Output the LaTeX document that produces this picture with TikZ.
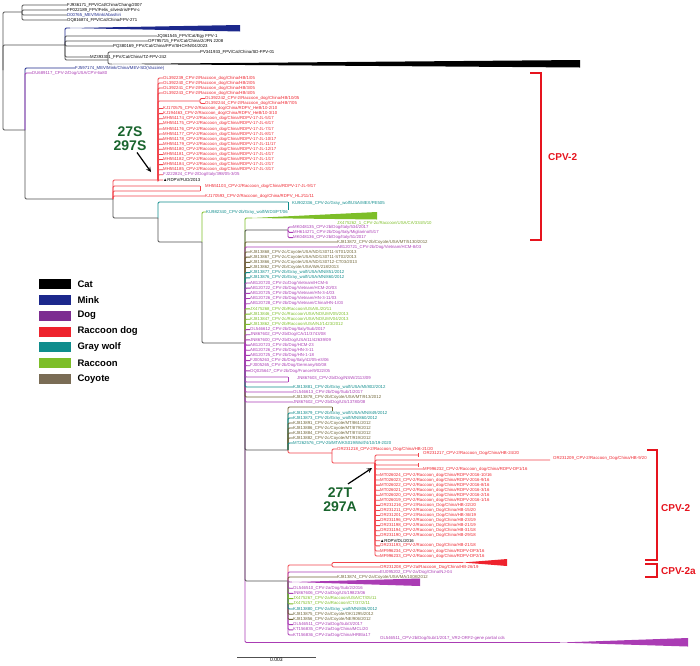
\documentclass[tikz,border=0pt]{standalone}
\usepackage{fontspec}
\setmainfont{Liberation Sans}
\usepackage{xcolor}
\usetikzlibrary{positioning}

\definecolor{treec}{RGB}{80,80,80}
\definecolor{minkc}{RGB}{28,40,140}
\definecolor{dogc}{RGB}{170,60,180}
\definecolor{dogleg}{RGB}{125,45,145}
\definecolor{rdogc}{RGB}{238,35,45}
\definecolor{wolfc}{RGB}{15,140,140}
\definecolor{racc}{RGB}{125,190,40}
\definecolor{coyc}{RGB}{110,100,55}
\definecolor{coyleg}{RGB}{122,108,85}
\definecolor{mutg}{RGB}{25,100,45}
\definecolor{brkc}{RGB}{230,20,30}

\tikzset{
  br/.style={draw=treec, line width=0.9pt, rounded corners=1.2pt},
  rbr/.style={draw=rdogc!85, line width=0.8pt, rounded corners=1.2pt},
  lbl/.style={anchor=west, inner sep=0pt, font=\fontsize{4.3}{5}\selectfont},
  legbox/.style={minimum width=33pt, minimum height=11pt, inner sep=0pt, draw=white, line width=0.6pt},
  legtxt/.style={anchor=west, inner sep=0pt, font=\fontsize{9.5}{10}\selectfont\bfseries},
  mut/.style={inner sep=0pt, font=\fontsize{14}{14}\selectfont\bfseries, text=mutg},
  clade/.style={anchor=west, inner sep=0pt, font=\fontsize{10}{10}\selectfont\bfseries, text=brkc},
  brk/.style={draw=brkc, line width=1.2pt},
}

\begin{document}
\catcode`\_=12
\begin{tikzpicture}[x=1pt,y=-1pt]
\useasboundingbox (0,0) rectangle (700,665);

% ---- FPV / MEV outgroups
\coordinate (root) at (3,70);
\coordinate (c22) at (22,12);
\coordinate (c65) at (65,45);
\coordinate (c25) at (25,130);
\draw[br] (root) |- (c22);
\draw[br] (root) |- (c65);
\draw[br] (root) |- (c25);

\node[lbl] (fj936) at (67,5) {FJ936171_FPV/Cat/China/Chang/2007};
\node[lbl] (fp022) at (67,10) {FP022189_FPV/Felis_silvestris/FPV-c};
\node[lbl, text=minkc] (d00765) at (67,15) {D00765_MEV/Mink/Abashiri};
\node[lbl] (oq816) at (67,20) {OQ816874_FPV/Cat/China/FPV-271};
\foreach \n in {fj936,fp022,d00765,oq816}
  \draw[br] (c22) |- (\n.west);

\coordinate (wmk) at (70,28);
\draw[br, draw=minkc] (c65) |- (wmk);
\fill[minkc] (wmk) -- (240,25) -- (240,31.5) -- cycle;
\node[lbl] (jq361) at (157,36) {JQ361545_FPV/Cat/Egy FPV-1};
\node[lbl] (op795) at (148,41) {OP795715_FPV/Cat/China/2/JFN 2208};
\node[lbl] (pq380) at (113,46) {PQ380169_FPV/Cat/China/FPV/SHCHN/04/2023};
\node[lbl] (mz393) at (90,57) {MZ393301_FPV/Cat/China/TZ-FPV-242};
\foreach \n in {jq361,op795,pq380,mz393}
  \draw[br] (c65) |- (\n.west);
\coordinate (c108) at (108,60);
\node[lbl] (pv341) at (200,52) {PV341933_FPV/Cat/China/SD-FPV-01};
\coordinate (wct) at (112,64);
\draw[br] (c65) |- (c108);
\draw[br] (c108) |- (pv341.west);
\draw[br] (c108) |- (wct);
\fill[black] (wct) -- (580,60) -- (580,67.5) -- cycle;

\node[lbl, text=minkc] (fj597) at (75,68) {FJ597174_MEV/Mink/China/MEV-SD(Vaccine)};
\node[lbl, text=dogc] (du689) at (32,73) {DU689117_CPV-2/Dog/USA/CPV-6a80};
\coordinate (c113) at (113,199);
\draw[br, draw=minkc] (c25) |- (fj597.west);
\draw[br, draw=dogc] (c25) |- (du689.west);
\draw[br] (c25) |- (c113);

% ---- upper CPV-2 raccoon dog clade
\coordinate (c158r) at (158,180);
\draw[rbr] (c113) |- (c158r);
\foreach \t [count=\i] in {OL392239_CPV-2/Raccoon_dog/China/HB/1/05,
  OL392240_CPV-2/Raccoon_dog/China/HB/2/05, OL392241_CPV-2/Raccoon_dog/China/HB/3/05,
  OL392243_CPV-2/Raccoon_dog/China/HB/4/05}{
  \node[lbl, text=rdogc] (ra\i) at (163,{78+5*(\i-1)}) {\t};
  \draw[rbr] (c158r) |- (ra\i.west);
}
\coordinate (c200r) at (200,101);
\draw[rbr] (c158r) |- (c200r);
\node[lbl, text=rdogc] (ol242) at (205,98.5) {OL392242_CPV-2/Raccoon_dog/China/HB/10/05};
\node[lbl, text=rdogc] (ol244) at (205,103.5) {OL392244_CPV-2/Raccoon_dog/China/HB/7/05};
\draw[rbr] (c200r) |- (ol242.west);
\draw[rbr] (c200r) |- (ol244.west);
\foreach \t/\c [count=\i] in {{KJ170575_CPV-2/Raccoon_dog/China/RDPV_HeB/10-2/10}/rdogc,
  {KJ194463_CPV-2/Raccoon_dog/China/RDPV_HeB/10-3/10}/rdogc,
  {MH551174_CPV-2/Raccoon_dog/China/RDPV-17-JL-5/17}/rdogc,
  {MH551175_CPV-2/Raccoon_dog/China/RDPV-17-JL-6/17}/rdogc,
  {MH551176_CPV-2/Raccoon_dog/China/RDPV-17-JL-7/17}/rdogc,
  {MH551177_CPV-2/Raccoon_dog/China/RDPV-17-JL-8/17}/rdogc,
  {MH551178_CPV-2/Raccoon_dog/China/RDPV-17-JL-10/17}/rdogc,
  {MH551179_CPV-2/Raccoon_dog/China/RDPV-17-JL-11/17}/rdogc,
  {MH551180_CPV-2/Raccoon_dog/China/RDPV-17-JL-12/17}/rdogc,
  {MH551181_CPV-2/Raccoon_dog/China/RDPV-17-JL-4/17}/rdogc,
  {MH551182_CPV-2/Raccoon_dog/China/RDPV-17-JL-1/17}/rdogc,
  {MH551184_CPV-2/Raccoon_dog/China/RDPV-17-JL-2/17}/rdogc,
  {MH551185_CPV-2/Raccoon_dog/China/RDPV-17-JL-3/17}/rdogc,
  {FJ222824_CPV-2/Dog/Italy/398/05-3/05}/dogc,
  {▲RDPV/FUD/2013}/black}{
  \node[lbl, text=\c] (rb\i) at (163,{108.5+5.1*(\i-1)}) {\t};
  \draw[rbr] (c158r) |- (rb\i.west);
}
\coordinate (m103a) at (200,186);
\coordinate (m103b) at (200,191);
\draw[rbr] (c113) |- (m103a);
\draw[rbr] (c113) |- (m103b);
\draw[rbr] (m103a) -- (m103b);
\node[lbl, text=rdogc] (mh103) at (205,186) {MH551103_CPV-2/Raccoon_dog/China/RDPV-17-JL-9/17};
\node[lbl, text=rdogc] (kj593) at (205,196) {KJ170593_CPV-2/Raccoon_dog/China/RDPV_HLJ/11/11};
\draw[rbr] (c113) |- (kj593.west);

% ---- gray wolf branches
\coordinate (c158g) at (158,218);
\draw[br] (c113) |- (c158g);
\coordinate (t288) at (288,202);
\draw[br, draw=wolfc] (c158g) |- (t288);
\draw[br, draw=wolfc] (t288) -- ++(0,8);
\node[lbl, text=wolfc] (ku902) at (292,203) {KU902336_CPV-2c/Gray_wolf/USA/MEX/PE505};
\coordinate (c202) at (202,242);
\draw[br] (c158g) |- (c202);
\node[lbl, text=wolfc] (ku982) at (206,212) {KU982340_CPV-2b/Gray_wolf/WD3/PT/06};
\draw[br, draw=racc] (c202) |- (ku982.west);
\coordinate (c245) at (245,343);
\draw[br] (c202) |- (c245);

% ---- CPV-2a clade and bottom (drawn bottom first)
\coordinate (wbt) at (560,642.5);
\draw[br, draw=dogc] (c245) |- (wbt);
\fill[dogc] (wbt) -- (688,638) -- (688,646.5) -- cycle;
\node[lbl, text=dogc] (ol511) at (380,638) {OL546511_CPV-2b/Dog/Sub/1/2017_VR2-ORF2-gene partial cds};

\coordinate (c288a) at (288,581);
\draw[br] (c245) |- (c288a);
\coordinate (c332a) at (332,565);
\draw[rbr] (c288a) |- (c332a);
\coordinate (wrd) at (463,562.5);
\draw[rbr] (c332a) |- (wrd);
\fill[rdogc] (wrd) -- (507,559) -- (507,566) -- cycle;
\node[lbl, text=rdogc] (or208) at (380,567) {OR231208_CPV-2a/Raccoon_Dog/China/HB-26/19};
\draw[rbr] (c332a) |- (or208.west);
\node[lbl, text=dogc] (eu202) at (380,572) {EU095202_CPV-2a/Dog/China/NJ-04};
\draw[br, draw=dogc] (c288a) |- (eu202.west);
\node[lbl, text=coyc] (kj874) at (337,577) {KJ813874_CPV-2a/Coyote/USA/MA/1008/2012};
\draw[br, draw=coyc] (c288a) |- (kj874.west);
\coordinate (wdg) at (292,582);
\draw[br, draw=dogc] (c288a) |- (wdg);
\fill[dogc] (wdg) -- (420,578.5) -- (420,586) -- cycle;
\foreach \t/\c [count=\i] in {{KT156836_CPV-2a/Dog/China/HRB/a17}/dogc,
  {KT156835_CPV-2a/Dog/China/MCL/20}/dogc,
  {OL546511_CPV-2a/Dog/Sub/3/2017}/dogc,
  {KJ813856_CPV-2a/Coyote/NE/906/2012}/coyc,
  {KJ813875_CPV-2a/Coyote/OK/1295/2012}/coyc,
  {KJ813880_CPV-2a/Gray_wolf/MN/806/2012}/wolfc,
  {JX475257_CPV-2a/Raccoon/CT/37/2/11}/racc,
  {JX475267_CPV-2a/Raccoon/USA/CT/05/11}/racc,
  {JN867606_CPV-2a/Dog/US/19823/06}/dogc,
  {OL546510_CPV-2a/Dog/Sub/2/2016}/dogc}{
  \node[lbl, text=\c] (ca\i) at (293,{635-5.2*(\i-1)}) {\t};
  \draw[br, draw=\c] (c288a) |- (ca\i.west);
}

% ---- lower CPV-2 raccoon dog clade
\coordinate (c288c) at (288,450);
\draw[br] (c245) |- (c288c);
\coordinate (ol407) at (332,407);
\draw[br, draw=coyc] (c288c) |- (ol407);
\draw[br, draw=coyc] (ol407) -- ++(0,4);
\foreach \t/\c [count=\i] in {{KJ813879_CPV-2b/Gray_wolf/USA/MN/849/2012}/wolfc,
  {KJ813873_CPV-2b/Gray_wolf/MN/860/2012}/wolfc,
  {KJ813891_CPV-2c/Coyote/MT/861/2012}/coyc,
  {KJ813886_CPV-2c/Coyote/MT/879/2012}/coyc,
  {KJ813884_CPV-2c/Coyote/MT/874/2012}/coyc,
  {KJ813882_CPV-2c/Coyote/MT/919/2012}/coyc,
  {MT262576_CPV-2b/MTA/KS019/Wolf/4/10/19-2020}/wolfc}{
  \node[lbl, text=\c] (bx\i) at (293,{413+5*(\i-1)}) {\t};
  \draw[br, draw=\c] (c288c) |- (bx\i.west);
}
\coordinate (c332) at (332,453);
\draw[rbr] (c288c) |- (c332);
\node[lbl, text=rdogc] (or218) at (337,449) {OR231218_CPV-2/Raccoon_Dog/China/HB-21/20};
\draw[rbr] (c332) |- (or218.west);
\coordinate (c375) at (375,463);
\draw[rbr] (c332) |- (c375);
\coordinate (e455) at (418,455);
\coordinate (e460) at (550,460);
\coordinate (e465) at (418,465);
\draw[rbr] (c375) |- (e455);
\draw[rbr] (c375) |- (e460);
\draw[rbr] (c375) |- (e465);
\draw[rbr] (e455) ++(0,-2) -- ++(0,4);
\draw[rbr] (e465) ++(0,-2) -- ++(0,4);
\node[lbl, text=rdogc] (or217) at (423,453) {OR231217_CPV-2/Raccoon_Dog/China/HB-24/20};
\node[lbl, text=rdogc] (or209) at (553,458) {OR231209_CPV-2/Raccoon_Dog/China/HB-9/20};
\node[lbl, text=rdogc] (mf232) at (423,469) {MF996232_CPV-2/Raccoon_dog/China/RDPV-DP1/16};
\draw[rbr] (c375) |- (mf232.west);
\foreach \t/\c [count=\i] in {{MT026024_CPV-2/Raccoon_dog/China/RDPV-2016-10/16}/rdogc,
  {MT026023_CPV-2/Raccoon_dog/China/RDPV-2016-9/16}/rdogc,
  {MT026022_CPV-2/Raccoon_dog/China/RDPV-2016-8/16}/rdogc,
  {MT026021_CPV-2/Raccoon_dog/China/RDPV-2016-3/16}/rdogc,
  {MT026020_CPV-2/Raccoon_dog/China/RDPV-2016-2/16}/rdogc,
  {MT026019_CPV-2/Raccoon_dog/China/RDPV-2016-1/16}/rdogc,
  {OR231216_CPV-2/Raccoon_Dog/China/HB-22/20}/rdogc,
  {OR231211_CPV-2/Raccoon_Dog/China/HB-15/20}/rdogc,
  {OR231201_CPV-2/Raccoon_Dog/China/HB-36/19}/rdogc,
  {OR231196_CPV-2/Raccoon_Dog/China/HB-23/19}/rdogc,
  {OR231198_CPV-2/Raccoon_Dog/China/HB-21/19}/rdogc,
  {OR231194_CPV-2/Raccoon_Dog/China/HB-31/18}/rdogc,
  {OR231190_CPV-2/Raccoon_Dog/China/HB-29/18}/rdogc,
  {▲RDPV/DL/2016}/black,
  {OR231193_CPV-2/Raccoon_Dog/China/HB-21/18}/rdogc,
  {MF996234_CPV-2/Raccoon_dog/China/RDPV-DP3/16}/rdogc,
  {MF996233_CPV-2/Raccoon_dog/China/RDPV-DP2/16}/rdogc}{
  \node[lbl, text=\c] (rl\i) at (380,{475+5.06*(\i-1)}) {\t};
  \draw[rbr] (c375) |- (rl\i.west);
}

% ---- single leaves under the big polytomy
\node[lbl, text=dogc] (jn602) at (293,402) {JN867602_CPV-2b/Dog/US/13780/08};
\node[lbl, text=coyc] (kj878) at (293,397) {KJ813878_CPV-2b/Coyote/USA/MT/913/2012};
\node[lbl, text=dogc] (ol613) at (293,392) {OL546613_CPV-2b/Dog/Sub/1/2017};
\node[lbl, text=wolfc] (kj881) at (293,387) {KJ813881_CPV-2b/Gray_wolf/USA/MI/802/2012};
\draw[br, draw=dogc] (c245) |- (jn602.west);
\draw[br, draw=coyc] (c245) |- (kj878.west);
\draw[br, draw=dogc] (c245) |- (ol613.west);
\draw[br, draw=wolfc] (c245) |- (kj881.west);
\coordinate (q2) at (288,382);
\coordinate (q1) at (288,377);
\draw[br, draw=dogc] (c245) |- (q2);
\draw[br, draw=dogc] (c245) |- (q1);
\draw[br, draw=dogc] (q1) -- (q2);
\node[lbl, text=dogc] (jn603) at (297,378) {JN867603_CPV-2b/Dog/NSW/2113/09};

% ---- upper side of the big polytomy (drawn top first)
\coordinate (wrc) at (252,218);
\draw[br, draw=racc] (c245) |- (wrc);
\fill[racc] (wrc) -- (377,212) -- (377,219.5) -- cycle;
\node[lbl, text=racc] (jx262) at (337,223) {JX475262_1_CPV-2c/Raccoon/USA/CA/334/5/10};
\coordinate (c288p) at (288,230);
\draw[br] (c245) |- (c288p);
\foreach \t [count=\i] in {MK048135_CPV-2b/Dog/Italy/534/2017,
  MH614271_CPV-2b/Dog/Italy/Migliarino/5/17, MK048136_CPV-2b/Dog/Italy/51/2017}{
  \node[lbl, text=dogc] (pi\i) at (293,{227+5.3*(\i-1)}) {\t};
  \draw[br, draw=dogc] (c288p) |- (pi\i.west);
}
\node[lbl, text=coyc] (kj872) at (337,242) {KJ813872_CPV-2b/Coyote/USA/MT/5130/2012};
\draw[br, draw=coyc] (c245) |- (kj872.west);
\node[lbl, text=dogc] (ab721) at (337,247) {AB120721_CPV-2b/Dog/Vietnam/HCM-8/03};
\draw[br, draw=dogc] (c245) |- (ab721.west);

\foreach \t/\c [count=\i] in {{KJ813868_CPV-2c/Coyote/USA/ND/130711-ST01/2013}/coyc,
  {KJ813867_CPV-2c/Coyote/USA/ND/130711-ST02/2013}/coyc,
  {KJ813866_CPV-2c/Coyote/USA/ND/130712-CT03/2013}/coyc,
  {KJ813862_CPV-2b/Coyote/USA/WA/218/2013}/coyc,
  {KJ813877_CPV-2b/Gray_wolf/USA/MN/851/2012}/wolfc,
  {KJ813876_CPV-2b/Gray_wolf/USA/MN/860/2012}/wolfc,
  {AB120720_CPV-2c/Dog/Vietnam/HCM-6}/dogc,
  {AB120722_CPV-2b/Dog/Vietnam/HCM-20/03}/dogc,
  {AB120725_CPV-2b/Dog/Vietnam/HN-3-4/03}/dogc,
  {AB120726_CPV-2b/Dog/Vietnam/HN-3-11/03}/dogc,
  {AB120728_CPV-2b/Dog/Vietnam/China/HN-1/03}/dogc,
  {JX475268_CPV-2b/Raccoon/USA/IL/20/11}/racc,
  {KJ813846_CPV-2c/Raccoon/USA/ND/UMV05/2013}/racc,
  {KJ813847_CPV-2c/Raccoon/USA/ND/UMV04/2013}/racc,
  {KJ813862_CPV-2b/Raccoon/USA/NJ/1423/2012}/racc,
  {OL546612_CPV-2b/Dog/Italy/Sub/2017}/dogc,
  {JN867602_CPV-2b/Dog/CA/11/3743/08}/dogc,
  {JN867600_CPV-2b/Dog/USA/11/42639/09}/dogc,
  {AB120723_CPV-2b/Dog/HCM-23}/dogc,
  {AB120726_CPV-2b/Dog/HN-3-11}/dogc,
  {AB120725_CPV-2b/Dog/HN-1-18}/dogc,
  {FJ005263_CPV-2b/Dog/Italy/42/05-e3/06}/dogc,
  {FJ005265_CPV-2b/Dog/Germany/60/08}/dogc,
  {OQ025647_CPV-2b/Dog/France/9/022/05}/dogc}{
  \node[lbl, text=\c] (bl\i) at (250,{252+5.17*(\i-1)}) {\t};
  \draw[br, draw=\c] (c245) |- (bl\i.west);
}

% ---- mutation labels
\node[mut] (m27s) at (130,132) {27S};
\node[mut, below=3pt of m27s] (m297s) {297S};
\coordinate (tgts) at (151,172);
\draw[-stealth, line width=1.2pt] ([xshift=7pt,yshift=-2pt]m297s.south) -- (tgts);
\node[mut] (m27t) at (340,493) {27T};
\node[mut, below=3pt of m27t] (m297a) {297A};
\coordinate (tgtt) at (372,468);
\draw[-stealth, line width=1.2pt] ([xshift=8pt,yshift=4pt]m27t.north) -- (tgtt);

% ---- clade brackets
\coordinate (b1t) at (530,73);
\coordinate (b1b) at (530,240);
\draw[brk] (b1t) -- ++(11,0) |- (b1b);
\node[clade] (cpv2a) at (548,157) {CPV-2};
\coordinate (b2t) at (647,450);
\coordinate (b2b) at (645,560);
\draw[brk] (b2t) -- ++(10,0) |- (b2b);
\node[clade] (cpv2b) at (661,508) {CPV-2};
\coordinate (b3t) at (645,564);
\coordinate (b3b) at (645,577);
\draw[brk] (b3t) -- ++(12,0) |- (b3b);
\node[clade] (cpv2c) at (661,571) {CPV-2a};

% ---- legend
\foreach \c/\t [count=\i] in {black/Cat, minkc/Mink, dogleg/Dog, rdogc/Raccoon dog,
  wolfc/Gray wolf, racc/Raccoon, coyleg/Coyote}{
  \node[legbox, fill=\c] (lb\i) at (54.5,{284+15.8*(\i-1)}) {};
  \node[legtxt, right=6pt of lb\i] (lt\i) {\t};
}

% ---- scale bar
\coordinate (sb0) at (237,657);
\coordinate (sb1) at (316,657);
\draw[line width=0.8pt, treec] (sb0) -- (sb1)
  node[midway, below=0.8pt, inner sep=0pt, font=\fontsize{5}{5}\selectfont, text=black] (sbl) {0.003};
\end{tikzpicture}
\end{document}
